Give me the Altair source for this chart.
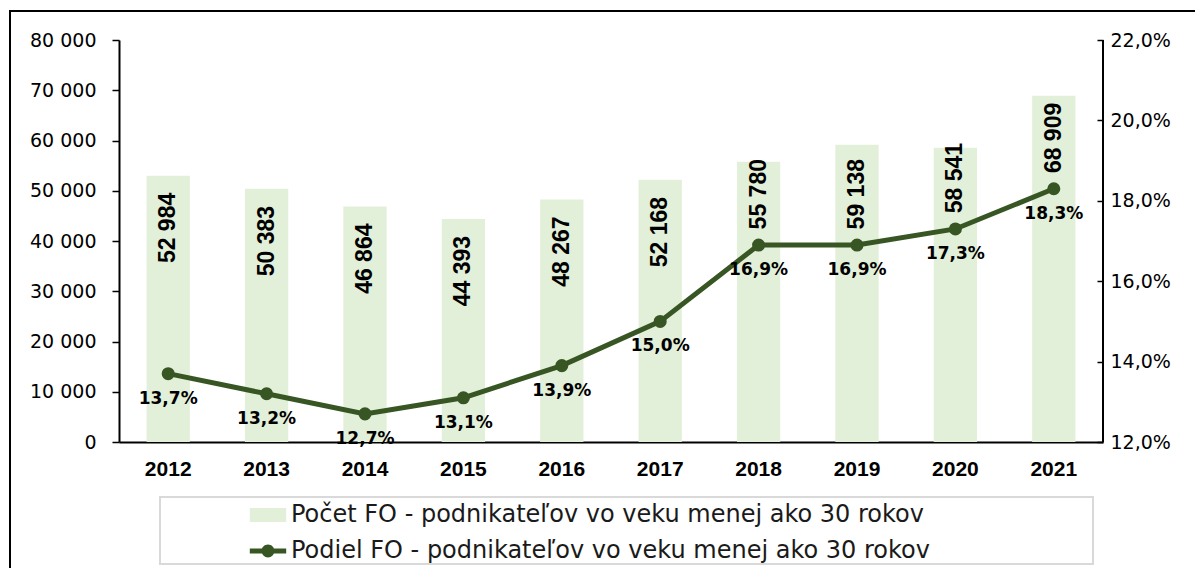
import altair as alt
import pandas as pd

# ---- data ----
years = ["2012", "2013", "2014", "2015", "2016", "2017", "2018", "2019", "2020", "2021"]
counts = [52984, 50383, 46864, 44393, 48267, 52168, 55780, 59138, 58541, 68909]
shares = [13.7, 13.2, 12.7, 13.1, 13.9, 15.0, 16.9, 16.9, 17.3, 18.3]
series_names = [
    "Počet FO - podnikateľov vo veku menej ako 30 rokov",
    "Podiel FO - podnikateľov vo veku menej ako 30 rokov",
]
count_ticks = [0, 10000, 20000, 30000, 40000, 50000, 60000, 70000, 80000]
share_ticks = [12, 14, 16, 18, 20, 22]

BAR_COLOR = "#e2efd9"
LINE_COLOR = "#375623"
FONT = "Liberation Sans"
WIDE = "DejaVu Sans"

df = pd.DataFrame({
    "year": years,
    "count": counts,
    "share": shares,
    "count_label": [f"{v:,}".replace(",", " ") for v in counts],
    "share_label": [f"{v:.1f}".replace(".", ",") + "%" for v in shares],
})
legend_df = pd.DataFrame({"series": series_names})

W, H = 984, 402
PX = 80000 / H  # counts per pixel on the left scale

base = alt.Chart(df)

x_enc = alt.X(
    "year:O",
    scale=alt.Scale(paddingInner=0.56, paddingOuter=0.28),
    axis=alt.Axis(
        title=None, labelAngle=0, labelFont=FONT, labelFontSize=21,
        labelFontWeight="bold", labelColor="black", ticks=False, tickSize=0,
        labelPadding=16, domainColor="black", domainWidth=2, grid=False,
    ),
)

y_count = alt.Y(
    "count:Q",
    scale=alt.Scale(domain=[0, 80000], nice=False),
    axis=alt.Axis(
        title=None, values=count_ticks, grid=False,
        labelExpr="replace(format(datum.value, ',d'), regexp(',', 'g'), ' ')",
        labelFont=WIDE, labelFontSize=19, labelColor="black", labelPadding=16,
        domainColor="black", domainWidth=2, tickColor="black", tickSize=7,
        tickWidth=1.5,
    ),
)

y_share = alt.Y(
    "share:Q",
    scale=alt.Scale(domain=[12, 22], nice=False),
    axis=alt.Axis(
        title=None, orient="right", values=share_ticks, grid=False,
        labelExpr="replace(format(datum.value, '.1f'), '.', ',') + '%'",
        labelFont=WIDE, labelFontSize=19, labelColor="black", labelPadding=7,
        domain=False, tickColor="black", tickSize=6, tickWidth=1.5, offset=-6,
    ),
)

rect_path = "M-1.3,-0.5H1.3V0.5H-1.3Z"
line_path = ("M-1.3,-0.18H1.3V0.18H-1.3Z "
             "M0.46,0A0.46,0.46 0 1,1 -0.46,0A0.46,0.46 0 1,1 0.46,0Z")

bars = base.mark_bar(color=BAR_COLOR, opacity=1).encode(x=x_enc, y=y_count)

# value labels sit inside the bar top, but are lifted above the line when they would hit it
bar_labels = base.transform_calculate(
    label_top=f"max(datum.count - {17 * PX}, (datum.share - 12) * 8000 + {86 * PX})"
).mark_text(
    angle=270, align="right", baseline="middle",
    font=FONT, fontSize=23, fontWeight="bold", color="black",
).encode(x=alt.X("year:O"), y=alt.Y("label_top:Q"), text="count_label:N")

line = base.mark_line(
    color=LINE_COLOR, strokeWidth=5,
    point=alt.OverlayMarkDef(filled=True, size=170, opacity=1, color=LINE_COLOR),
).encode(x=alt.X("year:O"), y=y_share)

share_labels = base.mark_text(
    baseline="middle", dy=25, font=WIDE, fontSize=17, fontWeight="bold",
    color="black",
).encode(x=alt.X("year:O"), y=alt.Y("share:Q"), text="share_label:N")

legend_opts = dict(
    title=None, orient="none", legendX=135, legendY=461, padding=0,
    symbolSize=784, labelFont=WIDE, labelFontSize=24,
    labelColor="#1a1a1a", labelOffset=9, rowPadding=10, labelLimit=900,
    symbolOpacity=1, symbolStrokeWidth=0,
)

legend_layer = alt.Chart(legend_df).mark_point(filled=True, opacity=0).encode(
    x=alt.value(0), y=alt.value(0),
    color=alt.Color(
        "series:N",
        scale=alt.Scale(domain=series_names, range=[BAR_COLOR, LINE_COLOR]),
        legend=alt.Legend(**legend_opts),
    ),
    shape=alt.Shape(
        "series:N",
        scale=alt.Scale(domain=series_names, range=[rect_path, line_path]),
        legend=alt.Legend(**legend_opts),
    ),
)

deco = alt.Chart(alt.Data(values=[{}]))
right_line = deco.mark_rule(color="black", strokeWidth=2).encode(
    x=alt.value(W), y=alt.value(0), y2=alt.value(H)
)
legend_box = deco.mark_rect(fillOpacity=0, stroke="#d9d9d9", strokeWidth=2).encode(
    x=alt.value(41), x2=alt.value(974), y=alt.value(457), y2=alt.value(524)
)
outer_box = deco.mark_rect(fillOpacity=0, stroke="black", strokeWidth=2).encode(
    x=alt.value(-109), x2=alt.value(1300), y=alt.value(-29), y2=alt.value(800)
)

left_layer = alt.layer(bars, bar_labels)
right_layer = alt.layer(line, share_labels)

chart = alt.layer(
    left_layer, right_layer, right_line, legend_box, outer_box, legend_layer
).resolve_scale(
    y="independent"
).properties(
    width=W, height=H,
    padding={"left": 111, "top": 32, "right": 92, "bottom": 126},
    autosize=alt.AutoSizeParams(type="none"),
    background="white",
).configure_view(stroke=None)

chart.save("out.html", embed_options={"renderer": "svg", "actions": False})
